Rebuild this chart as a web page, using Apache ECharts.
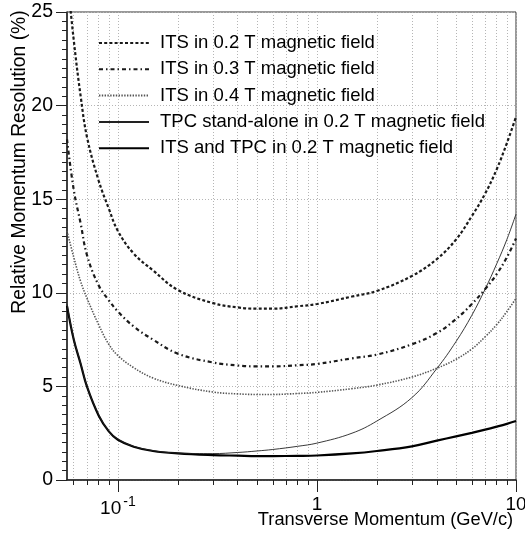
<!DOCTYPE html>
<html>
<head>
<meta charset="utf-8">
<script src="https://cdn.jsdelivr.net/npm/echarts@6/dist/echarts.min.js"></script>
<style>
html,body{margin:0;padding:0;background:#fff;}
#chart{width:525px;height:533px;}
</style>
</head>
<body>
<div id="chart"></div>
<script>
// Transverse momentum (GeV/c) at which every curve was read
const momentum = [0.0555, 0.06, 0.065, 0.07, 0.08, 0.09, 0.1, 0.12, 0.15, 0.2, 0.3, 0.4, 0.5, 0.6, 0.8, 1, 1.5, 2, 3, 4, 5, 6, 7, 8, 9, 10];
// Relative momentum resolution (%)
const its02 = [27.0, 23.5, 20.5, 18.3, 16.0, 14.5, 13.3, 12.1, 11.2, 10.15, 9.45, 9.22, 9.15, 9.15, 9.28, 9.4, 9.8, 10.1, 10.9, 11.8, 12.85, 14.1, 15.3, 16.6, 18.0, 19.4];
const its03 = [18.2, 15.5, 13.7, 12.0, 10.4, 9.6, 9.0, 8.2, 7.5, 6.75, 6.28, 6.12, 6.07, 6.07, 6.13, 6.2, 6.5, 6.7, 7.25, 7.85, 8.6, 9.4, 10.2, 11.0, 11.9, 12.9];
const its04 = [13.3, 11.9, 10.6, 9.7, 8.3, 7.25, 6.65, 6.0, 5.45, 5.05, 4.7, 4.6, 4.57, 4.57, 4.62, 4.68, 4.88, 5.07, 5.5, 5.97, 6.45, 7.0, 7.65, 8.3, 9.0, 9.7];
const tpcAlone = [9.4, 7.55, 6.25, 5.0, 3.5, 2.62, 2.18, 1.8, 1.57, 1.44, 1.41, 1.47, 1.55, 1.63, 1.8, 1.97, 2.5, 3.15, 4.4, 5.95, 7.4, 8.8, 10.2, 11.55, 12.85, 14.2];
const itsTpc = [9.3, 7.5, 6.2, 4.97, 3.45, 2.6, 2.15, 1.78, 1.55, 1.42, 1.33, 1.3, 1.28, 1.28, 1.29, 1.31, 1.42, 1.55, 1.8, 2.1, 2.33, 2.52, 2.69, 2.85, 3.0, 3.15];

const seriesNames = [
  'ITS in 0.2 T magnetic field',
  'ITS in 0.3 T magnetic field',
  'ITS in 0.4 T magnetic field',
  'TPC stand-alone in 0.2 T magnetic field',
  'ITS and TPC in 0.2 T magnetic field'
];
const xMinorTicks = [0.06, 0.07, 0.08, 0.09, 0.1, 0.2, 0.3, 0.4, 0.5, 0.6, 0.7, 0.8, 0.9, 1, 2, 3, 4, 5, 6, 7, 8, 9, 10];
const xMajorTicks = [0.1, 1, 10];
const xRange = [0.0555, 10];
const yRange = [0, 25];

const FONT = '"Liberation Sans", Arial, Helvetica, sans-serif';
const pairs = vals => momentum.map((p, i) => [p, vals[i]]);

const styles = [
  {color: '#1a1a1a', width: 2.2, type: [3, 2.2]},
  {color: '#1a1a1a', width: 2.2, type: [4, 3, 1.5, 3]},
  {color: '#555555', width: 1.6, type: [1.4, 1.4]},
  {color: '#222222', width: 0.9, type: 'solid'},
  {color: '#000000', width: 2.2, type: 'solid'}
];
const values = [its02, its03, its04, tpcAlone, itsTpc];

const chart = echarts.init(document.getElementById('chart'), null, {renderer: 'canvas'});
chart.setOption({
  animation: false,
  backgroundColor: '#ffffff',
  textStyle: {fontFamily: FONT},
  grid: {left: 67, top: 12, width: 449, height: 468, show: true, borderColor: '#333', borderWidth: 1,
         containLabel: false, outerBoundsMode: 'none'},
  legend: {
    orient: 'vertical', left: 93, top: 28,
    itemWidth: 50, itemHeight: 14, itemGap: 6.3,
    data: seriesNames,
    itemStyle: {color: 'rgba(0,0,0,0)', borderWidth: 0, opacity: 0},
    textStyle: {fontSize: 18.5, color: '#000', fontFamily: FONT, lineHeight: 20, padding: [0, 0, 0, 6]},
    inactiveColor: '#000'
  },
  xAxis: [
    {
      type: 'log', logBase: 10, min: xRange[0], max: xRange[1], position: 'bottom',
      axisLine: {show: true, lineStyle: {color: '#222', width: 1.5}},
      axisTick: {show: true, customValues: xMinorTicks, length: 5, lineStyle: {color: '#222', width: 1}},
      axisLabel: {show: false},
      splitLine: {show: true, lineStyle: {color: '#b5b5b5', width: 1, type: [1, 2]}},
      minorTick: {show: false}, minorSplitLine: {show: false}
    },
    {
      type: 'log', logBase: 10, min: xRange[0], max: xRange[1], position: 'bottom', offset: 0,
      name: 'Transverse Momentum (GeV/c)', nameLocation: 'middle', nameGap: 31, nameMoveOverlap: false,
      nameTextStyle: {fontSize: 18.3, color: '#000', fontFamily: FONT, padding: [0, 0, 0, 188]},
      axisLine: {show: false},
      axisTick: {show: true, customValues: xMajorTicks, length: 12, lineStyle: {color: '#222', width: 1}},
      axisLabel: {
        show: true, customValues: xMajorTicks, margin: 15, fontSize: 19, color: '#000', fontFamily: FONT,
        formatter: v => (Math.abs(v - 0.1) < 1e-9 ? '{b|10}{s|-1}' : String(Math.round(v))),
        rich: {b: {fontSize: 19, fontFamily: FONT, color: '#000'}, s: {fontSize: 14, fontFamily: FONT, color: '#000', padding: [0, 0, 14, 2]}}
      },
      splitLine: {show: false}
    }
  ],
  yAxis: {
    type: 'value', min: yRange[0], max: yRange[1], interval: 5,
    name: 'Relative Momentum Resolution (%)', nameLocation: 'middle', nameGap: 38, nameRotate: 90, nameMoveOverlap: false,
    nameTextStyle: {fontSize: 19.3, color: '#000', fontFamily: FONT, padding: [0, 0, 0, 168]},
    axisLine: {show: true, lineStyle: {color: '#222', width: 1.5}},
    axisTick: {show: true, length: 11, lineStyle: {color: '#222', width: 1}},
    minorTick: {show: true, splitNumber: 10, length: 5, lineStyle: {color: '#222', width: 1}},
    axisLabel: {fontSize: 19.5, color: '#000', margin: 14, fontFamily: FONT},
    splitLine: {show: true, lineStyle: {color: '#b5b5b5', width: 1, type: [1, 2]}}
  },
  series: seriesNames.map((name, i) => ({
    name, type: 'line', xAxisIndex: 0, yAxisIndex: 0,
    data: pairs(values[i]), symbol: 'none', smooth: 0.4, clip: true,
    lineStyle: styles[i], itemStyle: {color: styles[i].color},
    z: 10 - i
  }))
});
</script>
</body>
</html>
